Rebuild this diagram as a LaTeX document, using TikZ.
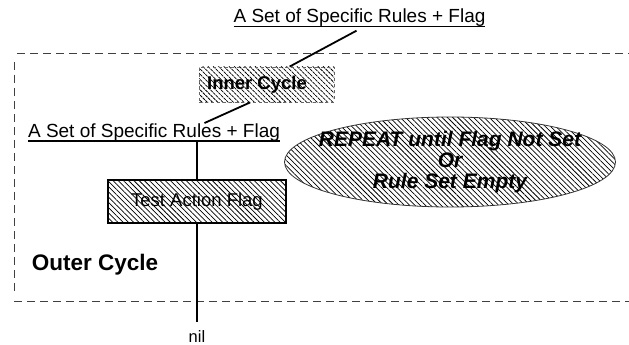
\documentclass[tikz,border=0pt]{standalone}
\usepackage{fontspec}
\setmainfont{Liberation Sans}
\usetikzlibrary{shapes.geometric,patterns.meta,calc}
\newcommand\myul[1]{\setbox0\hbox{#1}\rlap{\rule[-4.5pt]{\wd0}{1.4pt}}\box0}
\begin{document}
\begin{tikzpicture}[x=1pt,y=-1pt,
  hatch/.style={pattern={Lines[angle=-45,distance=3.7pt,line width=0.75pt]}, pattern color=black},
  lab/.style={inner sep=0pt, font=\fontsize{19}{21}\selectfont},
  conn/.style={line width=1.8pt},
  frame/.style={dash pattern=on 8pt off 5pt, line width=0.9pt, draw=black!75}]
\useasboundingbox (0,0) rectangle (629,345);
% outer frame
\draw[frame] (17,53) -- (629,53);
\draw[frame] (14,62) -- (14,293);
\draw[frame] (14,301) -- (629,301);
% nodes
\node[lab, anchor=base] (toplab) at (359.5,23) {\myul{A Set of Specific Rules + Flag}};
\node[hatch, draw=black!60, dashed, line width=0.8pt, minimum width=135pt, minimum height=35pt] (inner) at (266.5,84.5) {};
\node[inner sep=0pt, font=\bfseries\fontsize{18.5}{20}\selectfont] (innertxt) at (257,85) {Inner Cycle};
\node[lab, anchor=base] (lowlab) at (154,137) {\myul{A Set of Specific Rules + Flag}};
\node[hatch, draw, line width=2pt, minimum width=178pt, minimum height=43pt, inner sep=0pt, font=\fontsize{18.5}{20}\selectfont] (test) at (197,201.5) {Test Action Flag};
\node[ellipse, hatch, draw=black!80, line width=0.8pt, minimum width=331pt, minimum height=90pt, inner sep=0pt] (rep) at (450,162) {};
\node[align=center, inner sep=0pt, font=\bfseries\itshape\fontsize{21}{21}\selectfont] (reptxt) at (rep) {REPEAT until Flag Not Set\\Or\\Rule Set Empty};
\node[inner sep=0pt, font=\bfseries\fontsize{22.5}{24}\selectfont] (outer) at (95,265) {Outer Cycle};
\node[inner xsep=0pt, inner ysep=8pt, anchor=north, font=\fontsize{16.5}{18}\selectfont] (nil) at (197,322) {nil};
% connectors
\draw[conn] ($(toplab.south)+(-3,3)$) -- ($(inner.north west)!0.67!(inner.north east)$);
\draw[conn] ($(inner.south west)!0.38!(inner.south east)$) -- ($(lowlab.north west)!0.70!(lowlab.north east)$);
\draw[conn] (lowlab.south -| test.north) -- (test.north);
\draw[conn] (test.south) -- (nil.north);
\end{tikzpicture}
\end{document}
